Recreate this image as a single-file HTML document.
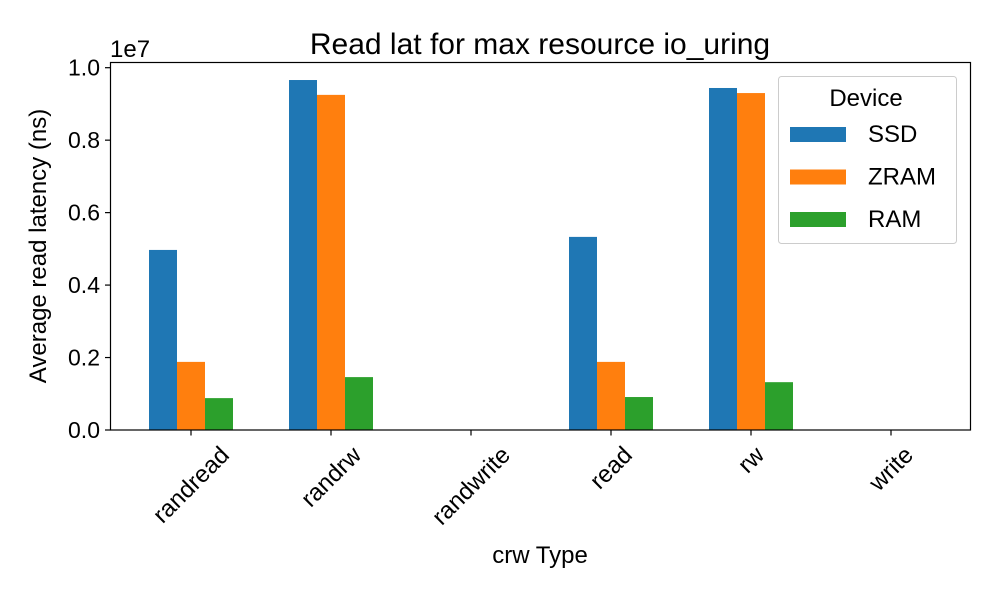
<!DOCTYPE html>
<html><head><meta charset="utf-8"><style>
body{margin:0;background:#fff}
svg{font-family:"Liberation Sans",Arial,sans-serif}
</style></head><body>
<svg id="chart" width="1000" height="600">
<rect width="1000" height="600" fill="#fff"/>
<text x="540" y="54" font-size="30" text-anchor="middle">Read lat for max resource io_uring</text>
<text x="110" y="57" font-size="24">1e7</text>
<g id="bars"></g>
<g id="yticks"></g>
<g id="xticks"></g>
<rect x="110.5" y="62.5" width="860" height="367.5" fill="none" stroke="#000" stroke-width="1.2"/>
<text x="46" y="246" font-size="24" text-anchor="middle" transform="rotate(-90 46 246)">Average read latency (ns)</text>
<text x="540" y="563" font-size="24" text-anchor="middle">crw Type</text>
<g>
<rect x="778.5" y="76.5" width="178" height="167" rx="3" fill="#fff" fill-opacity="0.8" stroke="#ccc"/>
<text x="866" y="106" font-size="24" text-anchor="middle">Device</text>
<g id="legend-items"></g>
</g>
</svg>
<script>
const categories=["randread","randrw","randwrite","read","rw","write"];
const seriesNames=["SSD","ZRAM","RAM"];
const ssd=[0.497e7,0.966e7,0,0.533e7,0.944e7,0];
const zram=[0.188e7,0.925e7,0,0.188e7,0.930e7,0];
const ram=[0.088e7,0.146e7,0,0.091e7,0.132e7,0];
const yTicks=[0,0.2e7,0.4e7,0.6e7,0.8e7,1.0e7];
const yTickLabels=["0.0","0.2","0.4","0.6","0.8","1.0"];
const colors=["#1f77b4","#ff7f0e","#2ca02c"];
const NS="http://www.w3.org/2000/svg";
function y(v){return 430-v*362.3/1e7;}
function x(i){return 191+140*i;}
const bw=28;
const series=[ssd,zram,ram];
function mk(t,a,p){const e=document.createElementNS(NS,t);for(const k in a)e.setAttribute(k,a[k]);p.appendChild(e);return e;}
const bars=document.getElementById('bars');
series.forEach((s,si)=>{s.forEach((v,i)=>{
 const r=mk('rect',{x:x(i)+(si-1.5)*bw,y:y(v),width:bw,height:430-y(v),fill:colors[si]},bars);
 
 
});});
const yt=document.getElementById('yticks');
yTicks.forEach((v,i)=>{
 const l=mk('line',{x1:105,x2:110.5,y1:y(v),y2:y(v),stroke:'#000','stroke-width':1.2},yt);
 
 
 const t=mk('text',{x:100,y:y(v)+8,'font-size':23,'text-anchor':'end'},yt);
 t.textContent=yTickLabels[i];
 
 
});
const xt=document.getElementById('xticks');
categories.forEach((c,i)=>{
 const l=mk('line',{x1:x(i),x2:x(i),y1:430,y2:435.5,stroke:'#000','stroke-width':1.2},xt);
 
 
 const t=mk('text',{x:0,y:0,'font-size':24,'text-anchor':'middle'},xt);
 t.textContent=c;
 
 
 const w=t.getComputedTextLength();
 const cy=443+(w+22)*0.7071/2;
 t.setAttribute('x',x(i));
 t.setAttribute('y',cy+8);
 t.setAttribute('transform','rotate(-45 '+x(i)+' '+cy+')');
});
const lg=document.getElementById('legend-items');
seriesNames.forEach((n,i)=>{
 const yy=127+i*42.5;
 const r=mk('rect',{x:790,y:yy,width:56,height:15,fill:colors[i]},lg);
 
 
 const t=mk('text',{x:868,y:yy+15,'font-size':24},lg);
 t.textContent=n;
 
 
});
</script>
</body></html>
